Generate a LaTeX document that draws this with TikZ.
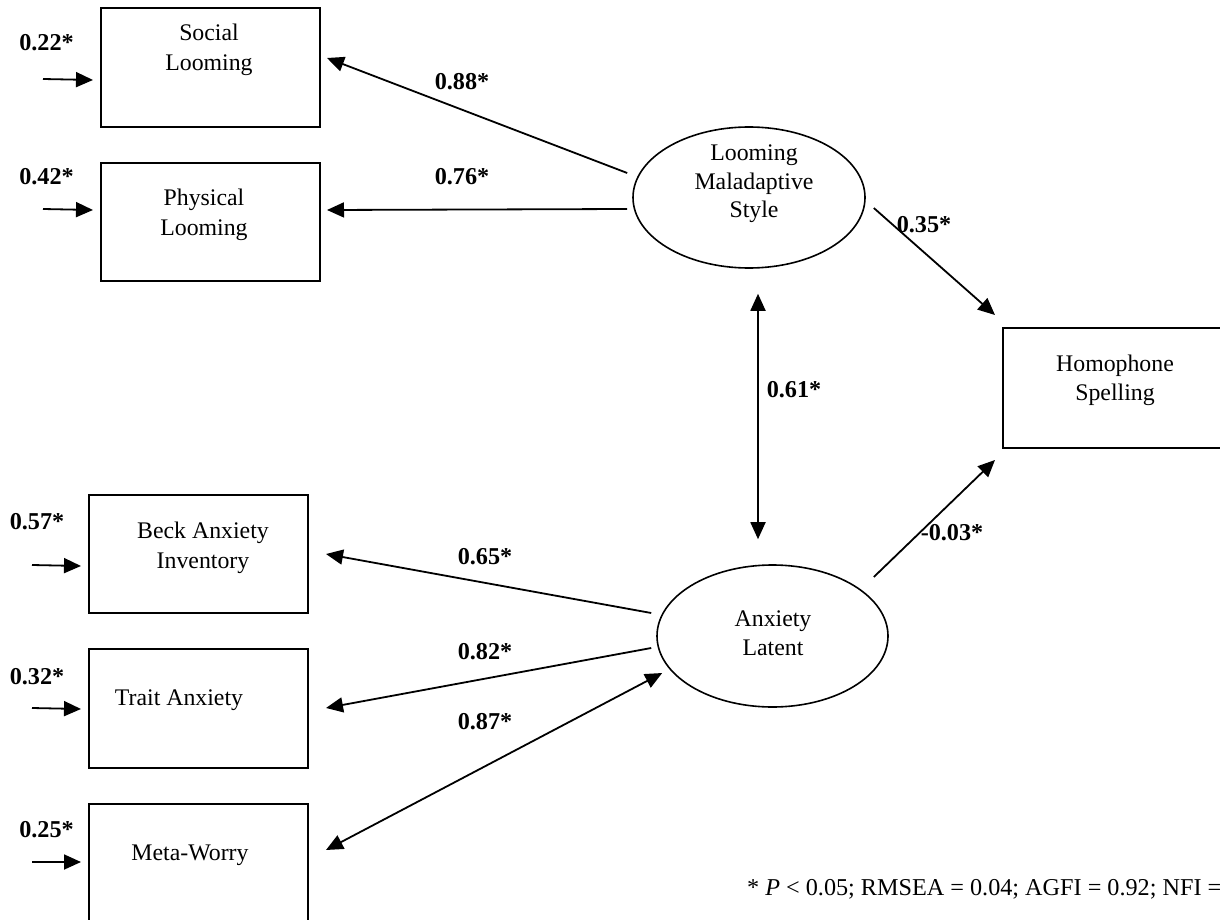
\documentclass[tikz,border=0pt]{standalone}
\usepackage{fontspec}
\setmainfont{Liberation Serif}
\usetikzlibrary{arrows.meta,shapes.geometric,calc}
\begin{document}
\begin{tikzpicture}[x=1pt,y=-1pt,
  box/.style={draw, line width=2pt, rectangle, minimum width=219pt, inner sep=0pt, anchor=north west},
  lat/.style={draw, line width=1.6pt, ellipse, inner sep=0pt},
  txt/.style={font=\fontsize{23.8}{29.5}\selectfont, align=center, inner sep=0pt},
  coef/.style={font=\fontsize{24.2}{28}\selectfont\bfseries, inner sep=0pt},
  arr/.style={line width=1.8pt, -{Triangle[length=17pt,width=15pt]}},
  darr/.style={line width=1.8pt, {Triangle[length=17pt,width=15pt]}-{Triangle[length=17pt,width=15pt]}},
]
\clip (0,0) rectangle (1220,920);
\fill[white] (0,0) rectangle (1220,920);

% observed variables
\node[box, minimum height=119pt] (social) at (100,7) {};
\node[box, minimum height=118pt] (physical) at (100,162) {};
\node[box, minimum height=118pt] (beck) at (88,494) {};
\node[box, minimum height=119pt] (trait) at (88,648) {};
\node[box, minimum height=130pt] (meta) at (88,803) {};
\node[box, minimum width=240pt, minimum height=120pt] (homo) at (1002,327) {};

% latent variables
\node[lat, minimum width=232pt, minimum height=141pt] (loom) at (749,197.5) {};
\node[lat, minimum width=231pt, minimum height=142pt] (anx) at (772.5,636) {};

% texts
\node[txt] (socialtxt) at (209,50) {Social\\Looming};
\node[txt] (physicaltxt) at (204,215) {Physical\\Looming};
\node[txt] (homotxt) at (1115,380.5) {Homophone\\Spelling};
\node[txt] (becktxt) at (203,548) {Beck Anxiety\\Inventory};
\node[txt] (traittxt) at (179,700) {Trait Anxiety};
\node[txt] (metatxt) at (190,855) {Meta-Worry};
\node[txt, font=\fontsize{23.8}{28.5}\selectfont] (loomtxt) at (754,184) {Looming\\Maladaptive\\Style};
\node[txt] (anxtxt) at (773,633) {Anxiety\\Latent};

% connectors
\draw[arr] ($(loom.west)+(-5,-24.5)$) -- ($(social.east)+(6,-9.5)$);
\draw[arr] ($(loom.west)+(-5,11.5)$) -- ($(physical.east)+(6,-12)$);
\draw[arr] ($(loom.east)+(8,10.5)$) -- ($(homo.north west)+(-7,-12)$);
\draw[darr] ($(loom.south)+(9,25)$) -- ($(anx.north)+(-14.5,-25)$);
\draw[arr] ($(anx.east)+(-15,-59)$) -- ($(homo.south west)+(-7,11)$);
\draw[arr] ($(anx.west)+(-5,-23)$) -- ($(beck.east)+(17,0)$);
\draw[arr] ($(anx.west)+(-5,12)$) -- ($(trait.east)+(17,-0.5)$);
\draw[darr] ($(anx.west)+(6,37)$) -- ($(meta.north east)+(17,47)$);

% error arrows
\coordinate (e1) at (43,79);
\coordinate (e2) at (43,209);
\coordinate (e3) at (32,565);
\coordinate (e4) at (32,708);
\coordinate (e5) at (32,862);
\draw[arr] (e1) -- ($(social.west)+(-7,12.5)$);
\draw[arr] (e2) -- ($(physical.west)+(-7,-12)$);
\draw[arr] (e3) -- ($(beck.west)+(-7,12)$);
\draw[arr] (e4) -- ($(trait.west)+(-7,0.5)$);
\draw[arr] (e5) -- ($(meta.north west)+(-7,59)$);

% coefficients
\node[coef] (c1) at (46.5,43) {0.22*};
\node[coef] (c2) at (46.5,177) {0.42*};
\node[coef] (c3) at (37,522) {0.57*};
\node[coef] (c4) at (37,677) {0.32*};
\node[coef] (c5) at (46.5,830) {0.25*};
\node[coef] (c6) at (462,82) {0.88*};
\node[coef] (c7) at (462,177) {0.76*};
\node[coef] (c8) at (924,225) {0.35*};
\node[coef] (c9) at (794,390) {0.61*};
\node[coef] (c10) at (952,533) {-0.03*};
\node[coef] (c11) at (485,557) {0.65*};
\node[coef] (c12) at (485,652) {0.82*};
\node[coef] (c13) at (485,722) {0.87*};

% footnote
\node[txt, font=\fontsize{24.2}{29}\selectfont, anchor=base west] (note) at (747,895) {* \textit{P} < 0.05; RMSEA = 0.04; AGFI = 0.92; NFI =};
\end{tikzpicture}
\end{document}
